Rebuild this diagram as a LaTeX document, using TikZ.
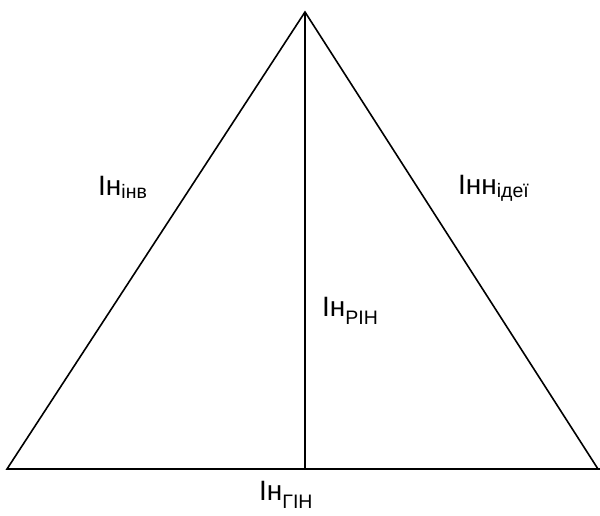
\documentclass[tikz,border=0pt]{standalone}
\usepackage{fontspec}
\setmainfont{Liberation Sans}
\newcommand{\mainsz}{\fontsize{28}{28}\selectfont}
\newcommand{\subsz}{\fontsize{19.5}{19.5}\selectfont}
\newcommand{\lsub}[1]{\raisebox{-3pt}{\subsz #1}}
\newcommand{\usub}[1]{\raisebox{-8pt}{\subsz #1}}
\begin{document}
\begin{tikzpicture}[x=1pt,y=-1pt,
  edge/.style={line width=1.6pt,black},
  lbl/.style={anchor=base west,inner sep=0pt,font=\mainsz}]
\useasboundingbox (0,0) rectangle (600,515);
\coordinate (apex) at (305,12);
\coordinate (bl) at (7,469);
\coordinate (br) at (598,469);
\coordinate (bend) at (600,469);
\coordinate (foot) at (305,469);
\draw[edge,line join=miter] (br) -- (apex) -- (bl) -- (bend);
\draw[edge] (apex) -- (foot);
\node[lbl] (l1) at (98,195) {Ін\lsub{інв}};
\node[lbl] (l2) at (458,194) {Інн\lsub{ідеї}};
\node[lbl] (l3) at (322,316) {Ін\usub{РІН}};
\node[lbl] (l4) at (259,500) {Ін\usub{ГІН}};
\end{tikzpicture}
\end{document}
